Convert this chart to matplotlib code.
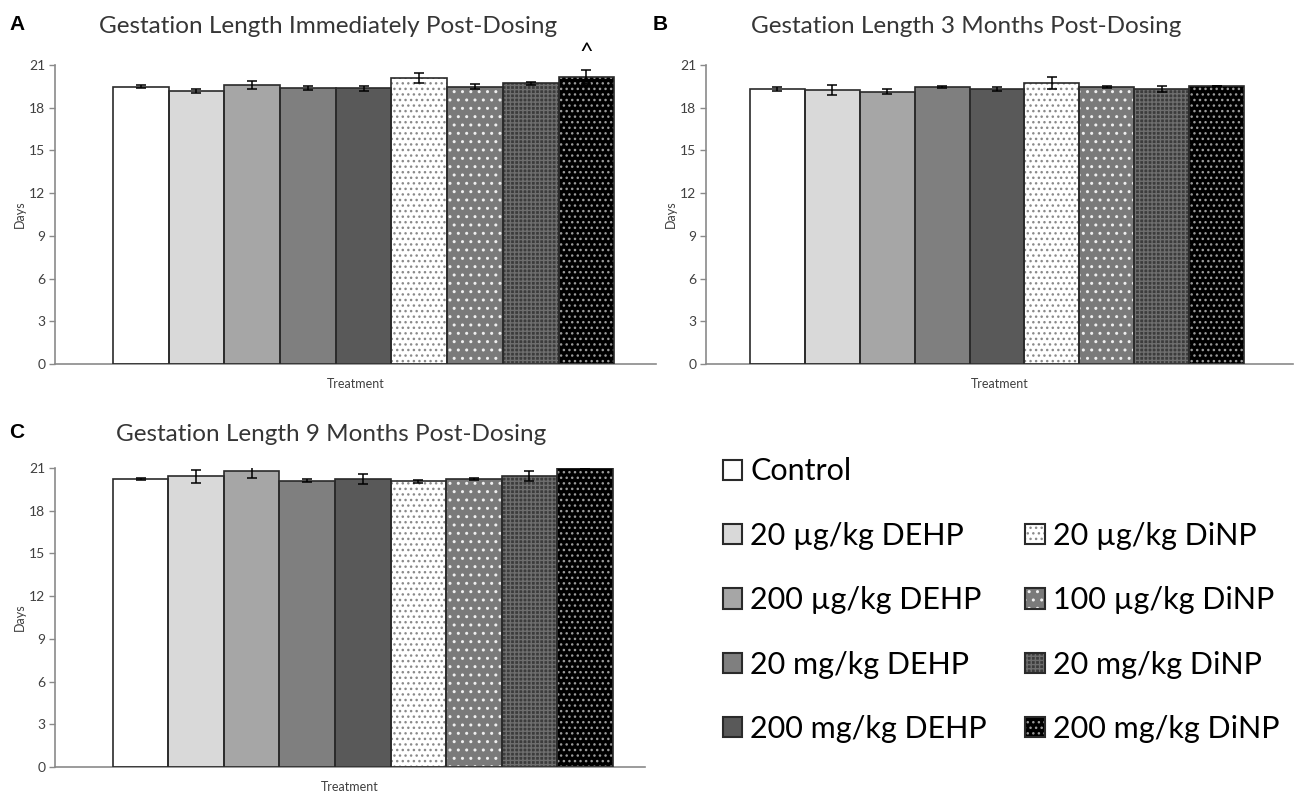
import matplotlib
matplotlib.use("Agg")
import matplotlib.pyplot as plt
from matplotlib.patches import Patch

plt.rcParams['font.family'] = ['Lato', 'DejaVu Sans']
plt.rcParams['hatch.linewidth'] = 1.0

treatments = ["Control", "20 µg/kg DEHP", "200 µg/kg DEHP", "20 mg/kg DEHP",
              "200 mg/kg DEHP", "20 µg/kg DiNP", "100 µg/kg DiNP",
              "20 mg/kg DiNP", "200 mg/kg DiNP"]

# gestation length (days), mean and SEM per treatment
a_mean = [19.48, 19.18, 19.60, 19.38, 19.38, 20.09, 19.48, 19.71, 20.16]
a_err = [0.12, 0.12, 0.30, 0.12, 0.18, 0.37, 0.18, 0.08, 0.50]
b_mean = [19.32, 19.25, 19.13, 19.43, 19.32, 19.74, 19.43, 19.32, 19.55]
b_err = [0.14, 0.37, 0.15, 0.06, 0.14, 0.42, 0.06, 0.22, 0.0]
c_mean = [20.23, 20.42, 20.77, 20.11, 20.23, 20.07, 20.23, 20.44, 21.00]
c_err = [0.05, 0.44, 0.50, 0.10, 0.37, 0.12, 0.10, 0.37, 0.0]

yticks = [0, 3, 6, 9, 12, 15, 18, 21]

# face colour, hatch, hatch colour
styles = [
    ('white', '', None),
    ('#d9d9d9', '', None),
    ('#a6a6a6', '', None),
    ('#7f7f7f', '', None),
    ('#595959', '', None),
    ('white', '...', '#8a8a8a'),
    ('#7a7a7a', '..', '#f0f0f0'),
    ('#3c3c3c', '++++', '#6e6e6e'),
    ('black', '...', '#9a9a9a'),
]
outline = '#2a2a2a'
axcol = '#8a8a8a'
txtcol = '#404040'

W, H = 1295, 796
fig = plt.figure(figsize=(W / 100, H / 100), dpi=100)


def fbox(l, r, b, t):
    return [l / W, 1 - b / H, (r - l) / W, (b - t) / H]


def panel(ax, mean, err, xlim):
    x = list(range(len(mean)))
    for i, (m, (fc, hatch, hc)) in enumerate(zip(mean, styles)):
        if hatch:
            ax.bar(x[i], m, width=1.0, color=fc, hatch=hatch,
                   edgecolor=hc, linewidth=0, zorder=2)
        else:
            ax.bar(x[i], m, width=1.0, color=fc, linewidth=0, zorder=2)
        ax.bar(x[i], m, width=1.0, fill=False, edgecolor=outline,
               linewidth=1.2, zorder=3)
    ax.errorbar(x, mean, yerr=err, fmt='none', ecolor='black',
                elinewidth=1.1, capsize=3.5, capthick=1.1, zorder=4)
    ax.set_xlim(*xlim)
    ax.set_ylim(0, 21)
    ax.set_yticks(yticks)
    ax.set_xticks([])
    for s in ['top', 'right']:
        ax.spines[s].set_visible(False)
    for s in ['left', 'bottom']:
        ax.spines[s].set_color(axcol)
        ax.spines[s].set_linewidth(1.2)
    ax.tick_params(axis='y', colors=axcol, labelcolor=txtcol, labelsize=10,
                   length=4, width=1, pad=3)
    ax.set_ylabel("Days", fontsize=9, color=txtcol, labelpad=2)
    ax.set_xlabel("Treatment", fontsize=9, color=txtcol, labelpad=10)


axA = fig.add_axes(fbox(55, 656, 364, 65))
axB = fig.add_axes(fbox(706, 1293, 364, 65))
axC = fig.add_axes(fbox(55, 645, 767, 468))

panel(axA, a_mean, a_err, (-1.54, 9.25))
panel(axB, b_mean, b_err, (-1.30, 9.39))
panel(axC, c_mean, c_err, (-1.54, 9.08))

axA.text(8, a_mean[8] + a_err[8] + 0.45, "^", ha='center', va='bottom',
         fontsize=17, color='black')

tkw = dict(ha='center', va='baseline', fontsize=17.5, color='#363636')
fig.text(328 / W, 1 - 33 / H, "Gestation Length Immediately Post-Dosing", **tkw)
fig.text(966 / W, 1 - 33 / H, "Gestation Length 3 Months Post-Dosing", **tkw)
fig.text(331 / W, 1 - 441 / H, "Gestation Length 9 Months Post-Dosing", **tkw)

lkw = dict(ha='left', va='baseline', fontsize=15, fontweight='bold',
           family='Liberation Sans', color='black')
fig.text(9 / W, 1 - 30 / H, "A", **lkw)
fig.text(653 / W, 1 - 30 / H, "B", **lkw)
fig.text(9 / W, 1 - 438 / H, "C", **lkw)

# legend: left column Control + DEHP, right column DiNP
handles = []
for fc, hatch, hc in styles:
    if hatch:
        base = Patch(facecolor=fc, hatch=hatch, edgecolor=hc, linewidth=0)
    else:
        base = Patch(facecolor=fc, linewidth=0)
    edge = Patch(fill=False, edgecolor=outline, linewidth=1.5)
    handles.append((base, edge))
blank = Patch(visible=False)
order = [0, 1, 2, 3, 4, None, 5, 6, 7, 8]
hs = [blank if i is None else handles[i] for i in order]
ls = ['' if i is None else treatments[i] for i in order]
fig.legend(hs, ls, ncol=2, loc='upper left',
           bbox_to_anchor=(695 / W, 1 - 430 / H), frameon=False,
           fontsize=22, handlelength=0.65, handleheight=0.65,
           handletextpad=0.26, labelspacing=1.19, columnspacing=1.24,
           labelcolor='black')

fig.savefig("out.png", dpi=100)
